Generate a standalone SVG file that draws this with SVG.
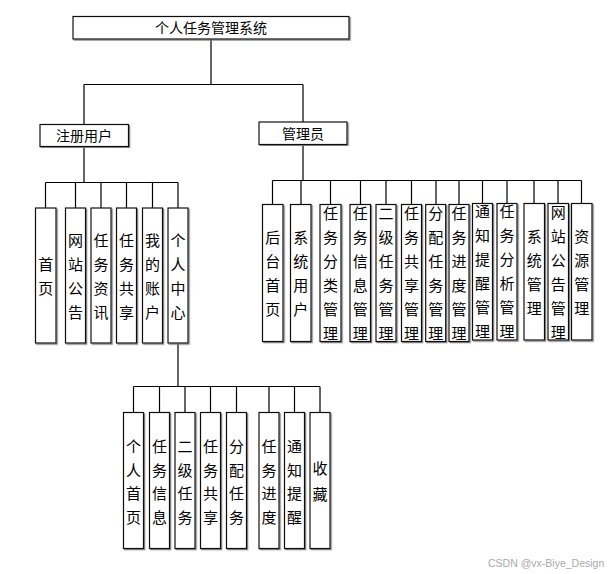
<svg xmlns="http://www.w3.org/2000/svg" width="611" height="574" viewBox="0 0 611 574">
<defs>
<filter id="sh" x="-20%" y="-5%" width="140%" height="110%">
<feDropShadow dx="1.2" dy="1.2" stdDeviation="0.4" flood-color="#777" flood-opacity="0.9"/>
</filter>
<style>
.box{fill:#fff;stroke:#111;stroke-width:1.2;filter:url(#sh)}
.t{font-family:"Noto Sans CJK SC","Noto Sans",sans-serif;font-size:15px;fill:#000;text-anchor:middle}
.h{font-family:"Noto Sans CJK SC","Noto Sans",sans-serif;font-size:14px;fill:#000;text-anchor:middle}
.ln{stroke:#000;stroke-width:1.2;fill:none}
.wm{font-family:"Liberation Sans",sans-serif;font-size:10.5px;fill:#aaa}
</style>
</defs>
<rect width="611" height="574" fill="#fff"/>
<g id="connectors" class="ln">
<path d="M211 39V84.5M84 84.5H303M84 84.5V124.5M303 84.5V122"/>
<path d="M84 146.5V182.5M45.5 182.5H178M45.5 182.5V208M75.5 182.5V208M101 182.5V208M126.5 182.5V208M152.5 182.5V208M178 182.5V208"/>
<path d="M303 144.5V180.5M272.5 180.5H581.5M272.5 180.5V204M301 180.5V204M330.5 180.5V204M360.5 180.5V204M386 180.5V204M411.5 180.5V204M436 180.5V204M459 180.5V204M482.5 180.5V204M507 180.5V204M534 180.5V204M558 180.5V204M581.5 180.5V204"/>
<path d="M178 343V386.5M133.5 386.5H320M133.5 386.5V412.5M159.5 386.5V412.5M185 386.5V412.5M210.5 386.5V412.5M236.5 386.5V412.5M269 386.5V412.5M294.5 386.5V412.5M320 386.5V412.5"/>
</g>
<g id="root"><rect class="box" x="73" y="16.5" width="276" height="22.5"/><text class="h" x="211" y="33">个人任务管理系统</text></g>
<g id="reguser"><rect class="box" x="40" y="124.5" width="88.5" height="22"/><text class="h" x="84" y="140.5">注册用户</text></g>
<g id="admin"><rect class="box" x="259" y="122" width="88" height="22.5"/><text class="h" x="303" y="138.5">管理员</text></g>

<g id="u1"><rect class="box" x="35.5" y="208" width="20.5" height="135"/><text class="t"><tspan x="45.7" y="269.5">首</tspan><tspan x="45.7" y="293.5">页</tspan></text></g>
<g id="u2"><rect class="box" x="65.5" y="208" width="20" height="135"/><text class="t"><tspan x="75.5" y="245.5">网</tspan><tspan x="75.5" y="269.5">站</tspan><tspan x="75.5" y="293.5">公</tspan><tspan x="75.5" y="317.5">告</tspan></text></g>
<g id="u3"><rect class="box" x="91" y="208" width="20" height="135"/><text class="t"><tspan x="101" y="245.5">任</tspan><tspan x="101" y="269.5">务</tspan><tspan x="101" y="293.5">资</tspan><tspan x="101" y="317.5">讯</tspan></text></g>
<g id="u4"><rect class="box" x="116.5" y="208" width="20" height="135"/><text class="t"><tspan x="126.5" y="245.5">任</tspan><tspan x="126.5" y="269.5">务</tspan><tspan x="126.5" y="293.5">共</tspan><tspan x="126.5" y="317.5">享</tspan></text></g>
<g id="u5"><rect class="box" x="142.5" y="208" width="20" height="135"/><text class="t"><tspan x="152.5" y="245.5">我</tspan><tspan x="152.5" y="269.5">的</tspan><tspan x="152.5" y="293.5">账</tspan><tspan x="152.5" y="317.5">户</tspan></text></g>
<g id="u6"><rect class="box" x="168" y="208" width="20" height="135"/><text class="t"><tspan x="178" y="245.5">个</tspan><tspan x="178" y="269.5">人</tspan><tspan x="178" y="293.5">中</tspan><tspan x="178" y="317.5">心</tspan></text></g>

<g id="a1"><rect class="box" x="262.5" y="204.5" width="20.5" height="137"/><text class="t"><tspan x="272.7" y="242.5">后</tspan><tspan x="272.7" y="266.5">台</tspan><tspan x="272.7" y="290.5">首</tspan><tspan x="272.7" y="314.5">页</tspan></text></g>
<g id="a2"><rect class="box" x="290.5" y="204.5" width="20.5" height="137"/><text class="t"><tspan x="300.7" y="242.5">系</tspan><tspan x="300.7" y="266.5">统</tspan><tspan x="300.7" y="290.5">用</tspan><tspan x="300.7" y="314.5">户</tspan></text></g>
<g id="a3"><rect class="box" x="320" y="204.5" width="21" height="137"/><text class="t"><tspan x="330.5" y="218.5">任</tspan><tspan x="330.5" y="242.5">务</tspan><tspan x="330.5" y="266.5">分</tspan><tspan x="330.5" y="290.5">类</tspan><tspan x="330.5" y="314.5">管</tspan><tspan x="330.5" y="338.5">理</tspan></text></g>
<g id="a4"><rect class="box" x="350" y="204.5" width="20.5" height="137"/><text class="t"><tspan x="360.3" y="218.5">任</tspan><tspan x="360.3" y="242.5">务</tspan><tspan x="360.3" y="266.5">信</tspan><tspan x="360.3" y="290.5">息</tspan><tspan x="360.3" y="314.5">管</tspan><tspan x="360.3" y="338.5">理</tspan></text></g>
<g id="a5"><rect class="box" x="376" y="204.5" width="20" height="137"/><text class="t"><tspan x="386" y="218.5">二</tspan><tspan x="386" y="242.5">级</tspan><tspan x="386" y="266.5">任</tspan><tspan x="386" y="290.5">务</tspan><tspan x="386" y="314.5">管</tspan><tspan x="386" y="338.5">理</tspan></text></g>
<g id="a6"><rect class="box" x="401.5" y="204.5" width="20" height="137"/><text class="t"><tspan x="411.5" y="218.5">任</tspan><tspan x="411.5" y="242.5">务</tspan><tspan x="411.5" y="266.5">共</tspan><tspan x="411.5" y="290.5">享</tspan><tspan x="411.5" y="314.5">管</tspan><tspan x="411.5" y="338.5">理</tspan></text></g>
<g id="a7"><rect class="box" x="425.7" y="204.5" width="20" height="137"/><text class="t"><tspan x="435.7" y="218.5">分</tspan><tspan x="435.7" y="242.5">配</tspan><tspan x="435.7" y="266.5">任</tspan><tspan x="435.7" y="290.5">务</tspan><tspan x="435.7" y="314.5">管</tspan><tspan x="435.7" y="338.5">理</tspan></text></g>
<g id="a8"><rect class="box" x="449" y="204.5" width="20" height="137"/><text class="t"><tspan x="459" y="218.5">任</tspan><tspan x="459" y="242.5">务</tspan><tspan x="459" y="266.5">进</tspan><tspan x="459" y="290.5">度</tspan><tspan x="459" y="314.5">管</tspan><tspan x="459" y="338.5">理</tspan></text></g>
<g id="a9"><rect class="box" x="472.5" y="203.5" width="20" height="136.5"/><text class="t"><tspan x="482.5" y="217">通</tspan><tspan x="482.5" y="241">知</tspan><tspan x="482.5" y="265">提</tspan><tspan x="482.5" y="289">醒</tspan><tspan x="482.5" y="313">管</tspan><tspan x="482.5" y="337">理</tspan></text></g>
<g id="a10"><rect class="box" x="497" y="203.5" width="20" height="136.5"/><text class="t"><tspan x="507" y="217">任</tspan><tspan x="507" y="241">务</tspan><tspan x="507" y="265">分</tspan><tspan x="507" y="289">析</tspan><tspan x="507" y="313">管</tspan><tspan x="507" y="337">理</tspan></text></g>
<g id="a11"><rect class="box" x="524" y="203.5" width="20.5" height="136.5"/><text class="t"><tspan x="534.2" y="241.5">系</tspan><tspan x="534.2" y="265.5">统</tspan><tspan x="534.2" y="289.5">管</tspan><tspan x="534.2" y="313.5">理</tspan></text></g>
<g id="a12"><rect class="box" x="548" y="203.5" width="20.5" height="136.5"/><text class="t"><tspan x="558.2" y="217.5">网</tspan><tspan x="558.2" y="241.5">站</tspan><tspan x="558.2" y="265.5">公</tspan><tspan x="558.2" y="289.5">告</tspan><tspan x="558.2" y="313.5">管</tspan><tspan x="558.2" y="337.5">理</tspan></text></g>
<g id="a13"><rect class="box" x="571.5" y="203.5" width="20.5" height="136.5"/><text class="t"><tspan x="581.7" y="241.5">资</tspan><tspan x="581.7" y="265.5">源</tspan><tspan x="581.7" y="289.5">管</tspan><tspan x="581.7" y="313.5">理</tspan></text></g>

<g id="c1"><rect class="box" x="123.5" y="412.5" width="20" height="136"/><text class="t"><tspan x="133.5" y="452">个</tspan><tspan x="133.5" y="475.5">人</tspan><tspan x="133.5" y="499">首</tspan><tspan x="133.5" y="522.5">页</tspan></text></g>
<g id="c2"><rect class="box" x="149.5" y="412.5" width="20" height="136"/><text class="t"><tspan x="159.5" y="452">任</tspan><tspan x="159.5" y="475.5">务</tspan><tspan x="159.5" y="499">信</tspan><tspan x="159.5" y="522.5">息</tspan></text></g>
<g id="c3"><rect class="box" x="175" y="412.5" width="20" height="136"/><text class="t"><tspan x="185" y="452">二</tspan><tspan x="185" y="475.5">级</tspan><tspan x="185" y="499">任</tspan><tspan x="185" y="522.5">务</tspan></text></g>
<g id="c4"><rect class="box" x="200.5" y="412.5" width="20" height="136"/><text class="t"><tspan x="210.5" y="452">任</tspan><tspan x="210.5" y="475.5">务</tspan><tspan x="210.5" y="499">共</tspan><tspan x="210.5" y="522.5">享</tspan></text></g>
<g id="c5"><rect class="box" x="226.5" y="412.5" width="20" height="136"/><text class="t"><tspan x="236.5" y="452">分</tspan><tspan x="236.5" y="475.5">配</tspan><tspan x="236.5" y="499">任</tspan><tspan x="236.5" y="522.5">务</tspan></text></g>
<g id="c6"><rect class="box" x="259" y="412.5" width="20" height="136"/><text class="t"><tspan x="269" y="452">任</tspan><tspan x="269" y="475.5">务</tspan><tspan x="269" y="499">进</tspan><tspan x="269" y="522.5">度</tspan></text></g>
<g id="c7"><rect class="box" x="284.5" y="412.5" width="20" height="136"/><text class="t"><tspan x="294.5" y="452">通</tspan><tspan x="294.5" y="475.5">知</tspan><tspan x="294.5" y="499">提</tspan><tspan x="294.5" y="522.5">醒</tspan></text></g>
<g id="c8"><rect class="box" x="310" y="412.5" width="20" height="136"/><text class="t"><tspan x="320" y="474">收</tspan><tspan x="320" y="499.5">藏</tspan></text></g>

<text class="wm" x="488" y="567">CSDN @vx-Biye_Design</text>
</svg>
